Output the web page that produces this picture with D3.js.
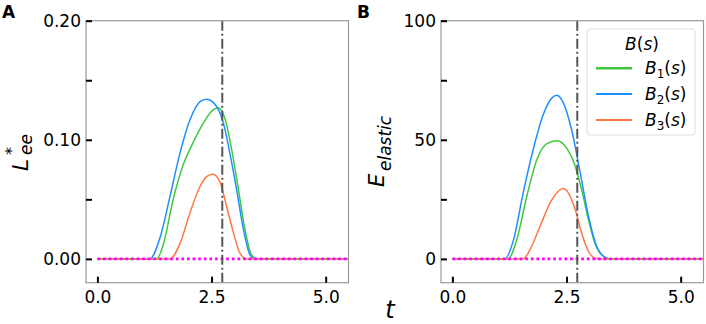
<!DOCTYPE html>
<html>
<head>
<meta charset="utf-8">
<script src="https://cdn.jsdelivr.net/npm/d3@7"></script>
<style>
  body { margin: 0; background: #fff; }
  text { font-family: "DejaVu Sans", sans-serif; }
</style>
</head>
<body>
<svg class="chart"></svg>
<script>
// values
var tMarker = 2.735;

// panel A, L*_ee
var tA1 = [0, 1.30, 1.45, 1.66, 1.88, 2.10, 2.32, 2.50, 2.65, 2.80, 2.94, 3.09, 3.23, 3.38, 3.50, 5.5];
var valA1 = [0, 0, 0.013, 0.050, 0.079, 0.098, 0.114, 0.124, 0.127, 0.117, 0.092, 0.058, 0.025, 0.003, 0, 0];
var tA2 = [0, 1.15, 1.37, 1.59, 1.81, 2.03, 2.25, 2.39, 2.61, 2.76, 2.90, 3.05, 3.20, 3.34, 3.45, 5.5];
var valA2 = [0, 0, 0.0176, 0.0525, 0.089, 0.117, 0.132, 0.134, 0.128, 0.114, 0.089, 0.058, 0.0246, 0.0036, 0, 0];
var tA3 = [0, 1.59, 1.81, 2.03, 2.25, 2.39, 2.53, 2.69, 2.83, 2.98, 3.12, 3.27, 5.5];
var valA3 = [0, 0, 0.013, 0.039, 0.061, 0.069, 0.071, 0.064, 0.044, 0.022, 0.005, 0, 0];

// panel B, E_elastic
var tB1 = [0, 1.22, 1.41, 1.63, 1.85, 2.07, 2.29, 2.50, 2.69, 2.83, 2.98, 3.12, 3.31, 3.45, 5.5];
var valB1 = [0, 0, 8.1, 26.3, 41.7, 48.4, 49.6, 46.6, 38.9, 29.1, 16.5, 6.7, 1.0, 0, 0];
var tB2 = [0, 1.15, 1.34, 1.55, 1.77, 1.99, 2.18, 2.29, 2.43, 2.61, 2.80, 2.98, 3.16, 3.34, 3.45, 5.5];
var valB2 = [0, 0, 8.1, 27.7, 45.9, 60.6, 67.6, 68.7, 65.5, 54.3, 36.1, 17.9, 5.3, 0.7, 0, 0];
var tB3 = [0, 1.55, 1.70, 1.92, 2.14, 2.32, 2.42, 2.54, 2.69, 2.83, 2.98, 3.12, 3.25, 5.5];
var valB3 = [0, 0, 3.9, 13.7, 23.5, 28.4, 29.5, 27.7, 20.7, 10.9, 3.2, 0.3, 0, 0];

var xTicks = [0, 2.5, 5.0];
var yTicksA = [0, 0.05, 0.10, 0.15, 0.20];
var yLabelsA = ["0.00", "", "0.10", "", "0.20"];
var yTicksB = [0, 25, 50, 75, 100];
var yLabelsB = ["0", "", "50", "", "100"];

var seriesNames = ["1", "2", "3"];
var seriesColors = ["#3fc83f", "#1e8fff", "#ff7744"];

function show() {
    'use strict';
    var width = 706, height = 324;
    var svg = d3.select(".chart")
        .attr("width", width)
        .attr("height", height);

    svg.append("rect").attr("width", width).attr("height", height).attr("fill", "#fff");

    function panel(opt) {
        var x = d3.scaleLinear().domain([-0.25, 5.5]).range([opt.left, opt.left + 262.5]);
        var y = d3.scaleLinear().domain(opt.yDomain).range([282.7, 20.7]);
        var g = svg.append("g");

        var clipId = "clip-" + opt.letter;
        svg.append("defs").append("clipPath").attr("id", clipId)
            .append("rect")
            .attr("x", x.range()[0]).attr("y", 20.7)
            .attr("width", 262.5).attr("height", 262);

        var line = d3.line()
            .x(function(d) { return x(d[0]); })
            .y(function(d) { return y(d[1]); })
            .curve(d3.curveMonotoneX);

        var plot = g.append("g").attr("clip-path", "url(#" + clipId + ")");
        opt.series.forEach(function(s, i) {
            var pts = s.t.map(function(t, j) { return [t, s.v[j]]; });
            plot.append("path")
                .attr("d", line(pts))
                .attr("fill", "none")
                .attr("stroke", seriesColors[i])
                .attr("stroke-width", 1.5);
        });

        // zero reference
        plot.append("path")
            .attr("d", line([[0, 0], [5.5, 0]]))
            .attr("stroke", "#ff00ff")
            .attr("stroke-width", 2.7)
            .attr("stroke-dasharray", "2.7,2.9");

        plot.append("line")
            .attr("x1", x(tMarker)).attr("x2", x(tMarker))
            .attr("y1", 20.7).attr("y2", 282.7)
            .attr("stroke", "#555")
            .attr("stroke-width", 2)
            .attr("stroke-dasharray", "10,3,2,3");

        // frame
        g.append("rect")
            .attr("x", x.range()[0]).attr("y", 20.7)
            .attr("width", 262.5).attr("height", 262)
            .attr("fill", "none")
            .attr("stroke", "#999")
            .attr("stroke-width", 1.2);

        var yAxis = d3.axisLeft(y)
            .tickValues(opt.yTicks)
            .tickSize(-6)
            .tickPadding(5)
            .tickFormat(function(d, i) { return opt.yLabels[i]; });
        var ya = g.append("g")
            .attr("transform", "translate(" + x.range()[0] + ",0)")
            .call(yAxis);

        var xAxis = d3.axisBottom(x)
            .tickValues(xTicks)
            .tickSize(-6)
            .tickPadding(4)
            .tickFormat(d3.format(".1f"));
        var xa = g.append("g")
            .attr("transform", "translate(0,282.7)")
            .call(xAxis);

        [ya, xa].forEach(function(a) {
            a.select(".domain").remove();
            a.selectAll(".tick line").attr("stroke", "#000").attr("stroke-width", 2);
            a.selectAll(".tick text")
                .attr("fill", "#000")
                .style("font-size", "17px")
                .style("font-family", "DejaVu Sans");
        });
        xa.selectAll(".tick text").attr("y", 5).attr("dy", "0.9em");

        svg.append("text")
            .attr("x", opt.left - 84).attr("y", 17.5)
            .style("font-size", "17px")
            .style("font-weight", "bold")
            .text(opt.letter);

        return {x: x, y: y, g: g};
    }

    panel({
        letter: "A", left: 86, yDomain: [-0.02, 0.20],
        yTicks: yTicksA, yLabels: yLabelsA,
        series: [{t: tA1, v: valA1}, {t: tA2, v: valA2}, {t: tA3, v: valA3}]
    });
    panel({
        letter: "B", left: 441, yDomain: [-10, 100],
        yTicks: yTicksB, yLabels: yLabelsB,
        series: [{t: tB1, v: valB1}, {t: tB2, v: valB2}, {t: tB3, v: valB3}]
    });

    // y label A: L*_ee
    var la = svg.append("g").attr("transform", "translate(27.5,171) rotate(-90)");
    la.append("text").attr("x", 0).attr("y", 0)
        .style("font-size", "22px").style("font-style", "italic").text("L");
    la.append("text").attr("x", 16).attr("y", -11)
        .style("font-size", "16px").text("*");
    la.append("text").attr("x", 16).attr("y", 4.4)
        .style("font-size", "17px").style("font-style", "italic").text("ee");

    // y label B: E_elastic
    var lb = svg.append("g").attr("transform", "translate(384,187) rotate(-90)");
    lb.append("text").attr("x", 0).attr("y", 0)
        .style("font-size", "21px").style("font-style", "italic").text("E");
    lb.append("text").attr("x", 16).attr("y", 7)
        .style("font-size", "17px").style("font-style", "italic").text("elastic");

    // shared x label
    svg.append("text")
        .attr("x", 390).attr("y", 318)
        .attr("text-anchor", "middle")
        .style("font-size", "24px").style("font-style", "italic")
        .text("t");

    // legend
    var lg = svg.append("g");
    lg.append("rect")
        .attr("x", 587).attr("y", 29)
        .attr("width", 108).attr("height", 106)
        .attr("rx", 3)
        .attr("fill", "#fff").attr("fill-opacity", 0.85)
        .attr("stroke", "#ddd").attr("stroke-width", 1);
    var title = lg.append("text")
        .attr("x", 642).attr("y", 50)
        .attr("text-anchor", "middle")
        .style("font-size", "17px");
    title.append("tspan").style("font-style", "italic").text("B");
    title.append("tspan").text("(");
    title.append("tspan").style("font-style", "italic").text("s");
    title.append("tspan").text(")");

    seriesNames.forEach(function(n, i) {
        var yy = 68.3 + i * 25.8;
        lg.append("line")
            .attr("x1", 596).attr("x2", 632)
            .attr("y1", yy).attr("y2", yy)
            .attr("stroke", seriesColors[i])
            .attr("stroke-width", i === 0 ? 2.5 : 2);
        var t = lg.append("text")
            .attr("x", 645).attr("y", yy + 6)
            .style("font-size", "17px");
        t.append("tspan").style("font-style", "italic").text("B");
        t.append("tspan").attr("dy", 4).style("font-size", "12px").text(n);
        t.append("tspan").attr("dy", -4).text("(");
        t.append("tspan").style("font-style", "italic").text("s");
        t.append("tspan").text(")");
    });
}

show();
</script>
</body>
</html>
